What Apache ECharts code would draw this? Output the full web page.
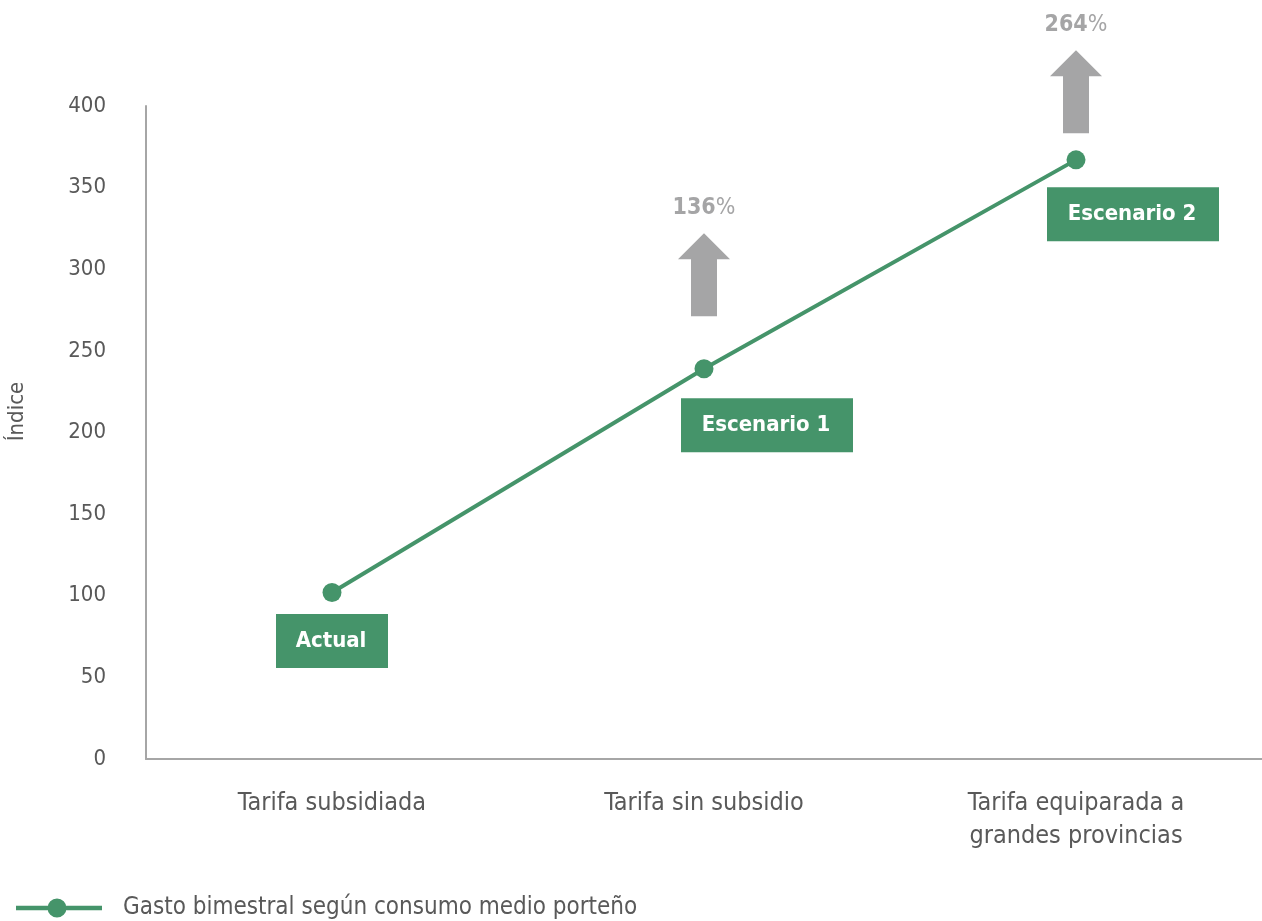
<!DOCTYPE html>
<html>
<head>
<meta charset="utf-8">
<script src="https://cdn.jsdelivr.net/npm/echarts@6/dist/echarts.min.js"></script>
<style>
html,body{margin:0;padding:0;background:#fff;}
#c{width:1262px;height:921px;}
</style>
</head>
<body>
<div id="c"></div>
<script>
const categories = ['Tarifa subsidiada', 'Tarifa sin subsidio', 'Tarifa equiparada a\ngrandes provincias'];
const values = [102, 239, 367];
const scenarioLabels = ['Actual', 'Escenario 1', 'Escenario 2'];
const increaseLabels = [null, '136', '264'];
const seriesName = 'Gasto bimestral según consumo medio porteño';
const yTicks = {min: 0, max: 400, interval: 50};

const FONT = "'DejaVu Sans Condensed', 'Liberation Sans Narrow', 'Roboto', sans-serif";
const GREEN = '#45946a';
const GRAY_TXT = '#595959';

const labelOffsets = [[0, 0], [63, 8], [57, 6]];
const labelWidths = [70, 130, 130];

const dataItems = values.map((v, i) => ({
  value: v,
  label: {
    show: true,
    position: 'bottom',
    distance: 12,
    offset: labelOffsets[i],
    formatter: scenarioLabels[i],
    backgroundColor: GREEN,
    color: '#fff',
    fontWeight: 'bold',
    fontSize: 22,
    fontFamily: FONT,
    lineHeight: 22,
    width: labelWidths[i],
    padding: [16, 22, 16, 20],
    align: 'center'
  }
}));

const arrowPath = 'path://M26,0 L52,26 L39,26 L39,83 L13,83 L13,26 L0,26 Z';
const arrowOffsets = [null, -94, -68];
const markData = [];
values.forEach((v, i) => {
  if (increaseLabels[i]) {
    markData.push({
      coord: [i, v],
      symbol: arrowPath,
      symbolSize: [52, 83],
      symbolOffset: [0, arrowOffsets[i]],
      itemStyle: {color: '#a5a5a6'},
      label: {
        show: true,
        position: 'top',
        distance: 14,
        formatter: '{b|' + increaseLabels[i] + '}{p|%}',
        rich: {
          b: {fontSize: 23, fontWeight: 'bold', color: '#a5a5a6', fontFamily: FONT},
          p: {fontSize: 23, fontWeight: 'normal', color: '#a5a5a6', fontFamily: FONT}
        }
      }
    });
  }
});

const legendIcon = 'path://M0,7.25 L86,7.25 L86,11.75 L0,11.75 Z M31.5,9.5 A9.5,9.5 0 1,1 50.5,9.5 A9.5,9.5 0 1,1 31.5,9.5 Z';

const chart = echarts.init(document.getElementById('c'));
chart.setOption({
  backgroundColor: '#fff',
  animation: false,
  textStyle: {fontFamily: FONT},
  grid: {left: 146, right: 0, top: 106, bottom: 162, containLabel: false, outerBoundsMode: 'none'},
  legend: {
    show: true,
    left: 11,
    top: 891,
    itemWidth: 86,
    itemHeight: 19,
    itemGap: 24,
    icon: legendIcon,
    itemStyle: {color: GREEN},
    textStyle: {fontSize: 24, color: GRAY_TXT, fontFamily: FONT, padding: [0, 0, 0, 16]},
    data: [seriesName]
  },
  xAxis: {
    type: 'category',
    data: categories,
    boundaryGap: true,
    axisLine: {lineStyle: {color: '#a6a6a6', width: 2}},
    axisTick: {show: false},
    axisLabel: {fontSize: 25, color: GRAY_TXT, margin: 28, lineHeight: 33, fontFamily: FONT}
  },
  yAxis: {
    type: 'value',
    min: yTicks.min,
    max: yTicks.max,
    interval: yTicks.interval,
    name: 'Índice',
    nameLocation: 'middle',
    nameGap: 118,
    nameTextStyle: {fontSize: 22, color: GRAY_TXT, fontFamily: FONT, padding: [0, 0, 0, 42]},
    axisLine: {show: true, lineStyle: {color: '#a6a6a6', width: 2}},
    axisTick: {show: false},
    splitLine: {show: false},
    axisLabel: {fontSize: 22, color: GRAY_TXT, margin: 40, fontFamily: FONT}
  },
  series: [{
    name: seriesName,
    type: 'line',
    data: dataItems,
    symbol: 'circle',
    symbolSize: 19,
    lineStyle: {color: GREEN, width: 4},
    itemStyle: {color: GREEN},
    markPoint: {
      silent: true,
      data: markData
    }
  }]
});
</script>
</body>
</html>
